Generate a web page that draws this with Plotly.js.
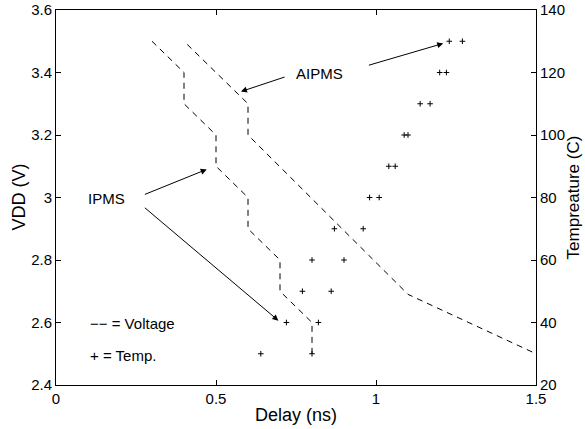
<!DOCTYPE html>
<html>
<head>
<meta charset="utf-8">
<script src="https://cdn.plot.ly/plotly-3.0.1.min.js"></script>
<style>html,body{margin:0;padding:0;background:#fff;}#chart{width:585px;height:429px;}</style>
</head>
<body>
<div id="chart"></div>
<script>
// Voltage curves (delay in ns, VDD in V)
const ipmsDelay = [0.3, 0.4, 0.4, 0.5, 0.5, 0.6, 0.6, 0.7, 0.7, 0.8, 0.8];
const ipmsVdd   = [3.5, 3.4, 3.3, 3.2, 3.1, 3.0, 2.9, 2.8, 2.7, 2.6, 2.5];
const aipmsDelay = [0.41, 0.6, 0.6, 1.1, 1.5];
const aipmsVdd   = [3.49, 3.3, 3.2, 2.69, 2.5];

// Temperature points (delay in ns, temperature in C)
const temps      = [30, 40, 50, 60, 70, 80, 90, 100, 110, 120, 130];
const tempDelayA = [0.64, 0.72, 0.77, 0.80, 0.87, 0.98, 1.04, 1.088, 1.138, 1.199, 1.229];
const tempDelayB = [0.80, 0.82, 0.86, 0.90, 0.96, 1.01, 1.06, 1.10, 1.169, 1.22, 1.27];

// Axis ticks
const xTicks  = [0, 0.5, 1, 1.5];
const yTicks  = [2.4, 2.6, 2.8, 3, 3.2, 3.4, 3.6];
const y2Ticks = [20, 40, 60, 80, 100, 120, 140];

const FONT = 'Liberation Sans, Arial, Helvetica, sans-serif';
const TICK_SIZE = 15;
const TITLE_SIZE = 18;
const dashStyle = {color: 'black', width: 1, dash: '6px,5px'};
const markerStyle = {symbol: 'cross-thin', size: 4, color: 'black', line: {color: 'black', width: 1}};

const traces = [
  {x: ipmsDelay, y: ipmsVdd, mode: 'lines', line: dashStyle, yaxis: 'y', hoverinfo: 'none'},
  {x: aipmsDelay, y: aipmsVdd, mode: 'lines', line: dashStyle, yaxis: 'y', hoverinfo: 'none'},
  {x: tempDelayA, y: temps, mode: 'markers', marker: markerStyle, yaxis: 'y2', hoverinfo: 'none'},
  {x: tempDelayB, y: temps, mode: 'markers', marker: markerStyle, yaxis: 'y2', hoverinfo: 'none'}
];

function arrow(hx, hy, tx, ty) {
  return {x: hx, y: hy, ax: tx, ay: ty, xref: 'x', yref: 'y', axref: 'x', ayref: 'y',
          text: '', showarrow: true, arrowhead: 2, arrowsize: 1.2, arrowwidth: 1,
          arrowcolor: 'black', standoff: 0, startstandoff: 0};
}
function label(x, y, t, anchor) {
  return {x: x, y: y, xref: 'x', yref: 'y', text: t, showarrow: false,
          xanchor: anchor, yanchor: 'middle', font: {family: FONT, size: 15, color: 'black'}};
}
function yTitle(xPaper, t, size) {
  return {x: xPaper, y: 0.5, xref: 'paper', yref: 'paper', text: t, showarrow: false,
          textangle: -90, xanchor: 'center', yanchor: 'middle',
          font: {family: FONT, size: size, color: 'black'}};
}

const axisCommon = {
  showgrid: false, zeroline: false, showline: true, linecolor: 'black', linewidth: 1,
  ticks: 'inside', ticklen: 5, tickwidth: 1, tickcolor: 'black',
  tickfont: {family: FONT, size: TICK_SIZE, color: 'black'}
};

const layout = {
  width: 585, height: 429,
  margin: {l: 56, r: 49, t: 10, b: 44},
  paper_bgcolor: 'white', plot_bgcolor: 'white',
  showlegend: false,
  font: {family: FONT, size: 14, color: 'black'},
  xaxis: Object.assign({}, axisCommon, {
    range: [0, 1.5], tickvals: xTicks, mirror: 'ticks',
    title: {text: 'Delay (ns)', font: {family: FONT, size: TITLE_SIZE}, standoff: 2}
  }),
  yaxis: Object.assign({}, axisCommon, {
    range: [2.4, 3.6], tickvals: yTicks, mirror: true
  }),
  yaxis2: Object.assign({}, axisCommon, {
    range: [20, 140], tickvals: y2Ticks, overlaying: 'y', side: 'right'
  }),
  annotations: [
    yTitle(-0.079, 'VDD (V)', TITLE_SIZE),
    yTitle(1.079, 'Tempreature (C)', 17),
    label(0.822, 3.397, 'AIPMS', 'center'),
    arrow(0.578, 3.339, 0.719, 3.387),
    arrow(1.210, 3.493, 0.973, 3.422),
    label(0.159, 2.998, 'IPMS', 'center'),
    arrow(0.471, 3.090, 0.273, 3.008),
    arrow(0.695, 2.606, 0.273, 2.971),
    label(0.101, 2.597, '\u2212\u2212 = Voltage', 'left'),
    label(0.101, 2.496, '+ = Temp.', 'left')
  ]
};

Plotly.newPlot('chart', traces, layout, {staticPlot: true, displayModeBar: false});
</script>
</body>
</html>
